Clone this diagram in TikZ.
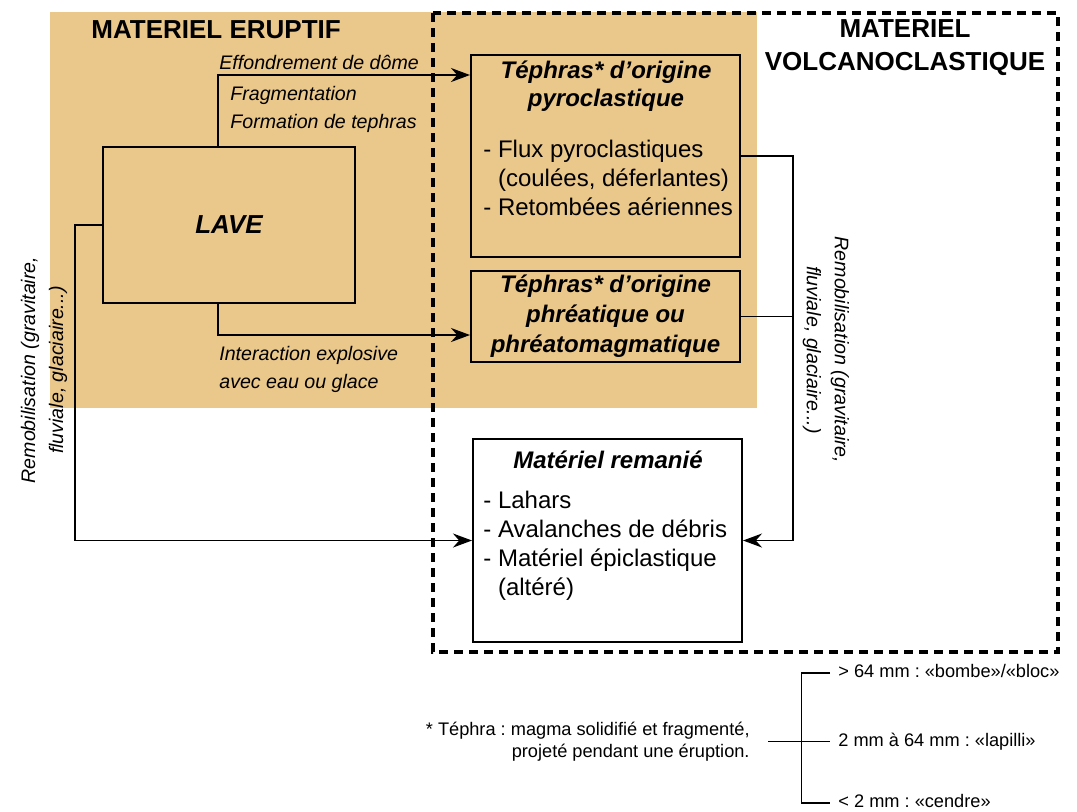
\documentclass[tikz,border=0pt]{standalone}
\usepackage{fontspec}
\setmainfont{Liberation Sans}
\usetikzlibrary{arrows.meta, calc}
\definecolor{eruptif}{RGB}{234,199,139}
\frenchspacing

\begin{document}
\begin{tikzpicture}[x=0.5pt, y=-0.5pt, >={Stealth[length=9.5pt,width=7pt]},
	box/.style={draw, line width=1pt, inner sep=0pt},
	flow/.style={->, line width=0.9pt},
	link/.style={line width=0.7pt},
	head/.style={inner sep=0pt, font={\fontsize{13}{16.5}\selectfont\bfseries}},
	title/.style={inner sep=0pt, font={\fontsize{12}{14}\selectfont\bfseries\itshape}},
	body/.style={inner sep=0pt, font={\fontsize{12}{14.5}\selectfont}},
	note/.style={inner sep=0pt, font={\fontsize{9.8}{14}\selectfont\itshape}},
	tiny/.style={inner sep=0pt, font={\fontsize{9.1}{11}\selectfont}, text height=6.6pt, text depth=1.8pt}]
	
	\useasboundingbox (0,0) rectangle (1077,811);
	
	%========================
	% zones
	%========================
	\fill[eruptif] (50,12) rectangle (757,408);
	\draw[line width=1.8pt, dash pattern=on 4.5pt off 3pt] (433,13) rectangle (1058,652);
	\node[head, anchor=west] (eruptif) at (91,30) {MATERIEL ERUPTIF};
	\node[head, align=center] (volcano) at (905,47.5) {MATERIEL\\VOLCANOCLASTIQUE};
	
	%========================
	% boxes
	%========================
	\node[box, minimum width=126pt, minimum height=78pt,
	font={\fontsize{13}{16}\selectfont\bfseries\itshape}] (lave) at (229,225) {LAVE};
	
	\node[box, minimum width=134.5pt, minimum height=101pt] (pyro) at (605.5,156) {};
	\node[title, align=center] (pyrotitle) at (606,86) {Téphras* d’origine\\pyroclastique};
	\node[body, align=left, anchor=west] (pyrolist) at (483,177.5)
	{- Flux pyroclastiques\\\phantom{-~}(coulées, déferlantes)\\- Retombées aériennes};
	
	\node[box, title, align=center, minimum width=134.5pt, minimum height=45.5pt,
	font={\fontsize{12}{15}\selectfont\bfseries\itshape}] (phreat) at (605.5,316.5)
	{Téphras* d’origine\\phréatique ou\\phréatomagmatique};
	
	\node[box, minimum width=134.5pt, minimum height=101.5pt] (remanie) at (607.5,540.5) {};
	\node[title] (remtitle) at (608,460) {Matériel remanié};
	\node[body, align=left, anchor=west] (remlist) at (483,545.5)
	{- Lahars\\- Avalanches de débris\\- Matériel épiclastique\\\phantom{-~}(altéré)};
	
	%========================
	% connectors
	%========================
	\draw[flow] ([xshift=-5.5pt]lave.north) |- ([yshift=40.5pt]pyro.west);
	\draw[flow] ([xshift=-5.5pt]lave.south) |- ([yshift=-9.25pt]phreat.west);
	\draw[flow] (lave.west) -- ++(-13.65pt,0) |- (remanie.west);
	\draw[flow] (pyro.east) -- ++(26pt,0) coordinate (rejoin) |- (remanie.east);
	\draw[link] (phreat.east) -- (phreat.east -| rejoin);
	
	% process labels
	\node[note, anchor=west] (effond) at (219,62.5) {Effondrement de dôme};
	\node[note, anchor=west, align=left] (fragm) at (230,109) {Fragmentation\\Formation de tephras};
	\node[note, anchor=west, align=left] (interact) at (219,369) {Interaction explosive\\avec eau ou glace};
	\node[note, rotate=90, align=center] (remobL) at (44,370) {Remobilisation (gravitaire,\\fluviale, glaciaire...)};
	\node[note, rotate=-90, align=center] (remobR) at (826,350) {Remobilisation (gravitaire,\\fluviale, glaciaire...)};
	
	%========================
	% footnote and grain sizes
	%========================
	\node[tiny, align=right, anchor=east, text height=, text depth=] (foot) at (750,741.5)
	{* Téphra : magma solidifié et fragmenté,\\projeté pendant une éruption.};
	\node[tiny, anchor=west] (bloc) at (838,673) {> 64 mm : «bombe»/«bloc»};
	\node[tiny, anchor=west] (lapilli) at (838,741.5) {2 mm à 64 mm : «lapilli»};
	\node[tiny, anchor=west] (cendre) at (838,803) {< 2 mm : «cendre»};
	\draw[link] ([xshift=-4pt]bloc.west) -- ([xshift=-18.25pt]bloc.west) |- ([xshift=-4pt]cendre.west);
	\draw[link] ([xshift=9pt]foot.east) -- ([xshift=-4pt]lapilli.west);
	
\end{tikzpicture}
\end{document}
